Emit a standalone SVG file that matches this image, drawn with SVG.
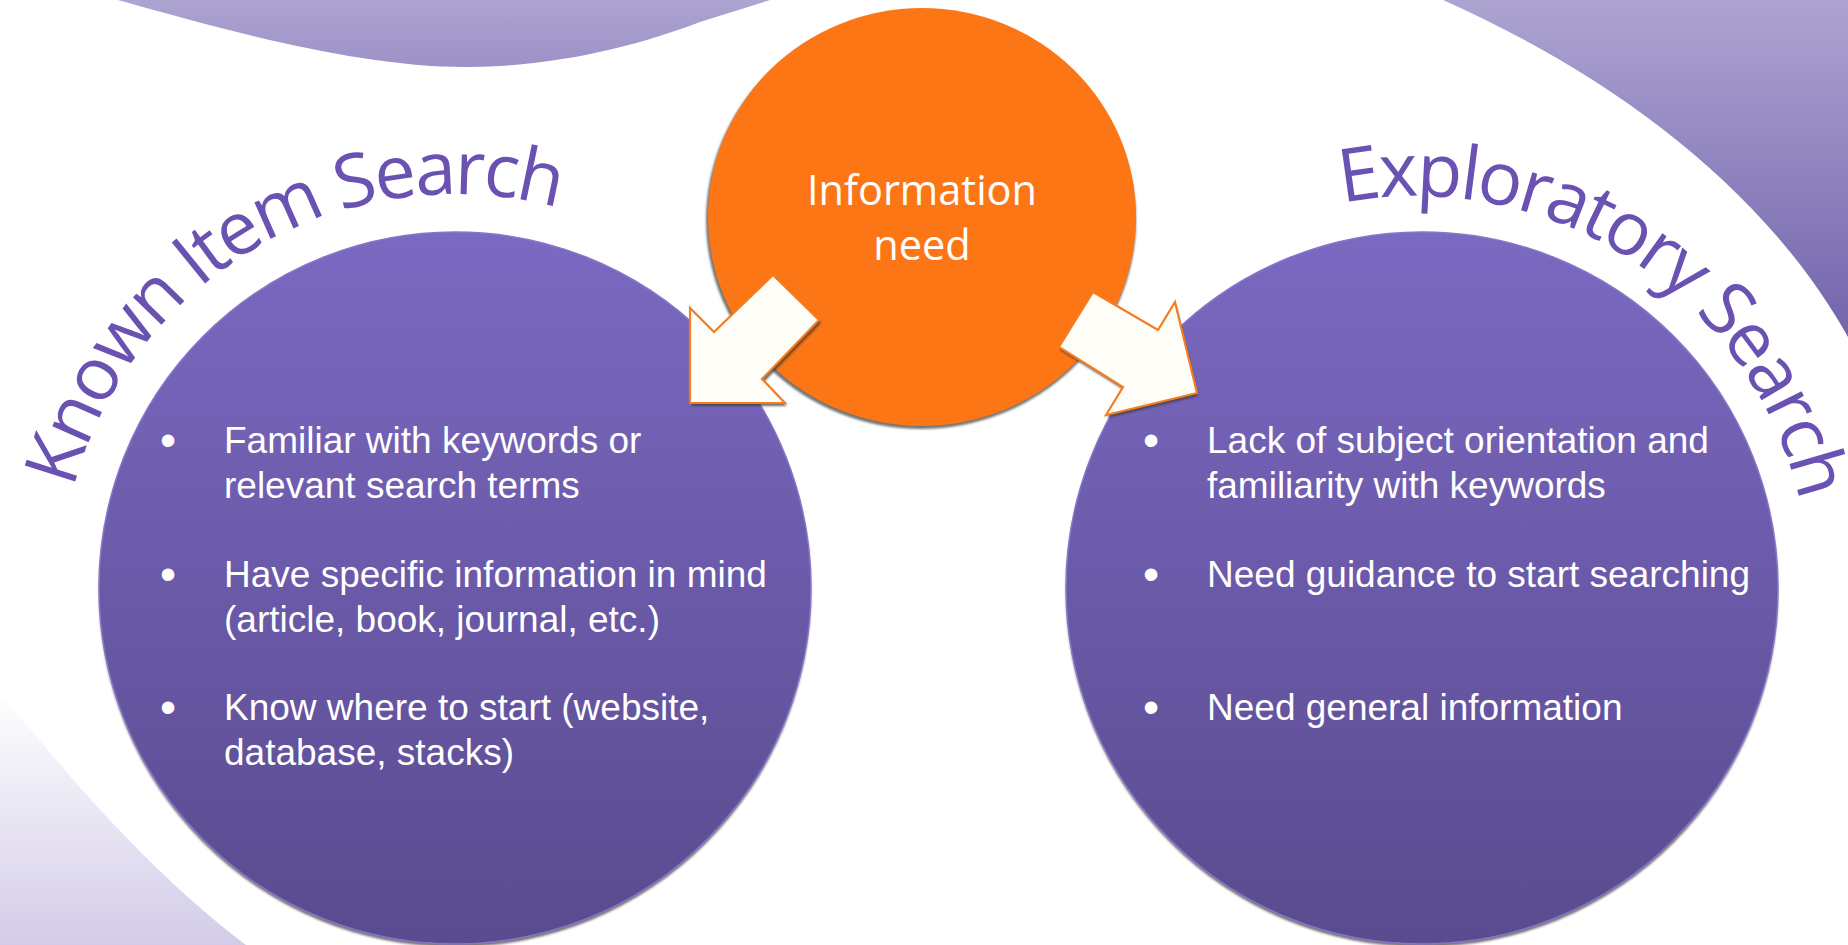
<svg xmlns="http://www.w3.org/2000/svg" width="1848" height="945" viewBox="0 0 1848 945">
  <style>
    .bullet { font-family: "Liberation Sans", Arial, sans-serif; font-size: 37px; fill: #FFFFFF; }
    .dot { font-family: "Liberation Sans", Arial, sans-serif; font-size: 46px; fill: #FFFFFF; }
    .title { font-family: "Open Sans", "Noto Sans", sans-serif; font-size: 74px; fill: #6A52B2; letter-spacing: -2.8px; }
    .center { font-family: "Open Sans", "Noto Sans", sans-serif; font-size: 41.5px; fill: #FFFFFF; text-anchor: middle; }
    .arrow { fill: #FEFDF8; stroke: #F57C1F; stroke-width: 2.2; stroke-linejoin: miter; }
    .arrowShadow { fill: #3A3A3A; opacity: 0.75; }
    .circleShadow { fill: #3A3A3A; opacity: 0.7; }
  </style>
  <defs>
    <linearGradient id="gPurple" x1="0" y1="0" x2="0" y2="1">
      <stop offset="0" stop-color="#7B69C2"/>
      <stop offset="1" stop-color="#5A4A8E"/>
    </linearGradient>
    <linearGradient id="gTop" x1="0" y1="0" x2="0" y2="1">
      <stop offset="0" stop-color="#ADA4D1"/>
      <stop offset="1" stop-color="#9D91C6"/>
    </linearGradient>
    <linearGradient id="gTopRight" gradientUnits="userSpaceOnUse" x1="0" y1="0" x2="0" y2="340">
      <stop offset="0" stop-color="#ADA4D1"/>
      <stop offset="1" stop-color="#7263AC"/>
    </linearGradient>
    <linearGradient id="gBottomLeft" gradientUnits="userSpaceOnUse" x1="0" y1="688" x2="0" y2="945">
      <stop offset="0" stop-color="#FFFFFF"/>
      <stop offset="1" stop-color="#D3CCE8"/>
    </linearGradient>
    <filter id="soft" x="-5%" y="-5%" width="110%" height="110%">
      <feGaussianBlur stdDeviation="0.8"/>
    </filter>
    <path id="arcLeft" d="M73.7,488.7 A394,394 0 0 1 825.2,453.2"/>
    <path id="arcRight" d="M1342.2,203 A394,394 0 0 1 1804,658.4"/>
  </defs>

  <rect x="0" y="0" width="1848" height="945" fill="#FFFFFF"/>

  <g id="background">
    <path d="M118,0 C225,30 360,68 470,67 C560,66 640,45 700,22 L770,0 Z" fill="url(#gTop)"/>
    <path d="M1443,0 C1600,70 1760,180 1848,337 L1848,0 Z" fill="url(#gTopRight)"/>
    <path d="M0,692 C80,792 160,880 246,945 L0,945 Z" fill="url(#gBottomLeft)"/>
  </g>

  <g id="known-item-search">
    <circle class="circleShadow" cx="455" cy="591" r="356" filter="url(#soft)"/>
    <circle cx="455" cy="588" r="356" fill="url(#gPurple)" stroke="#8576C9" stroke-width="1.5"/>
    <text class="title"><textPath href="#arcLeft">Known Item Search</textPath></text>
    <text class="dot" x="160" y="456">•</text>
    <text class="bullet" x="224" y="453">Familiar with keywords or</text>
    <text class="bullet" x="224" y="498">relevant search terms</text>
    <text class="dot" x="160" y="590">•</text>
    <text class="bullet" x="224" y="587">Have specific information in mind</text>
    <text class="bullet" x="224" y="632">(article, book, journal, etc.)</text>
    <text class="dot" x="160" y="723">•</text>
    <text class="bullet" x="224" y="720">Know where to start (website,</text>
    <text class="bullet" x="224" y="765">database, stacks)</text>
  </g>

  <g id="exploratory-search">
    <circle class="circleShadow" cx="1422" cy="591" r="356" filter="url(#soft)"/>
    <circle cx="1422" cy="588" r="356" fill="url(#gPurple)" stroke="#8576C9" stroke-width="1.5"/>
    <text class="title"><textPath href="#arcRight">Exploratory Search</textPath></text>
    <text class="dot" x="1143" y="456">•</text>
    <text class="bullet" x="1207" y="453">Lack of subject orientation and</text>
    <text class="bullet" x="1207" y="498">familiarity with keywords</text>
    <text class="dot" x="1143" y="590">•</text>
    <text class="bullet" x="1207" y="587">Need guidance to start searching</text>
    <text class="dot" x="1143" y="723">•</text>
    <text class="bullet" x="1207" y="720">Need general information</text>
  </g>

  <g id="information-need">
    <ellipse class="circleShadow" cx="921" cy="220" rx="215" ry="209" filter="url(#soft)"/>
    <ellipse cx="922" cy="217" rx="214" ry="209" fill="#FD7615"/>
    <text class="center" x="922" y="205">Information</text>
    <text class="center" x="922" y="260">need</text>
  </g>

  <g id="connectors">
    <polygon class="arrowShadow" transform="translate(2,3)" points="773,275 819,320 762,379 785,403 690,403 690,308 714,332" filter="url(#soft)"/>
    <polygon class="arrow" points="773,275 819,320 762,379 785,403 690,403 690,308 714,332"/>
    <polygon class="arrowShadow" transform="translate(1,3)" points="1093,292 1158,330 1175,302 1197,393 1106,415 1123,387 1059,347" filter="url(#soft)"/>
    <polygon class="arrow" points="1093,292 1158,330 1175,302 1197,393 1106,415 1123,387 1059,347"/>
  </g>
</svg>
